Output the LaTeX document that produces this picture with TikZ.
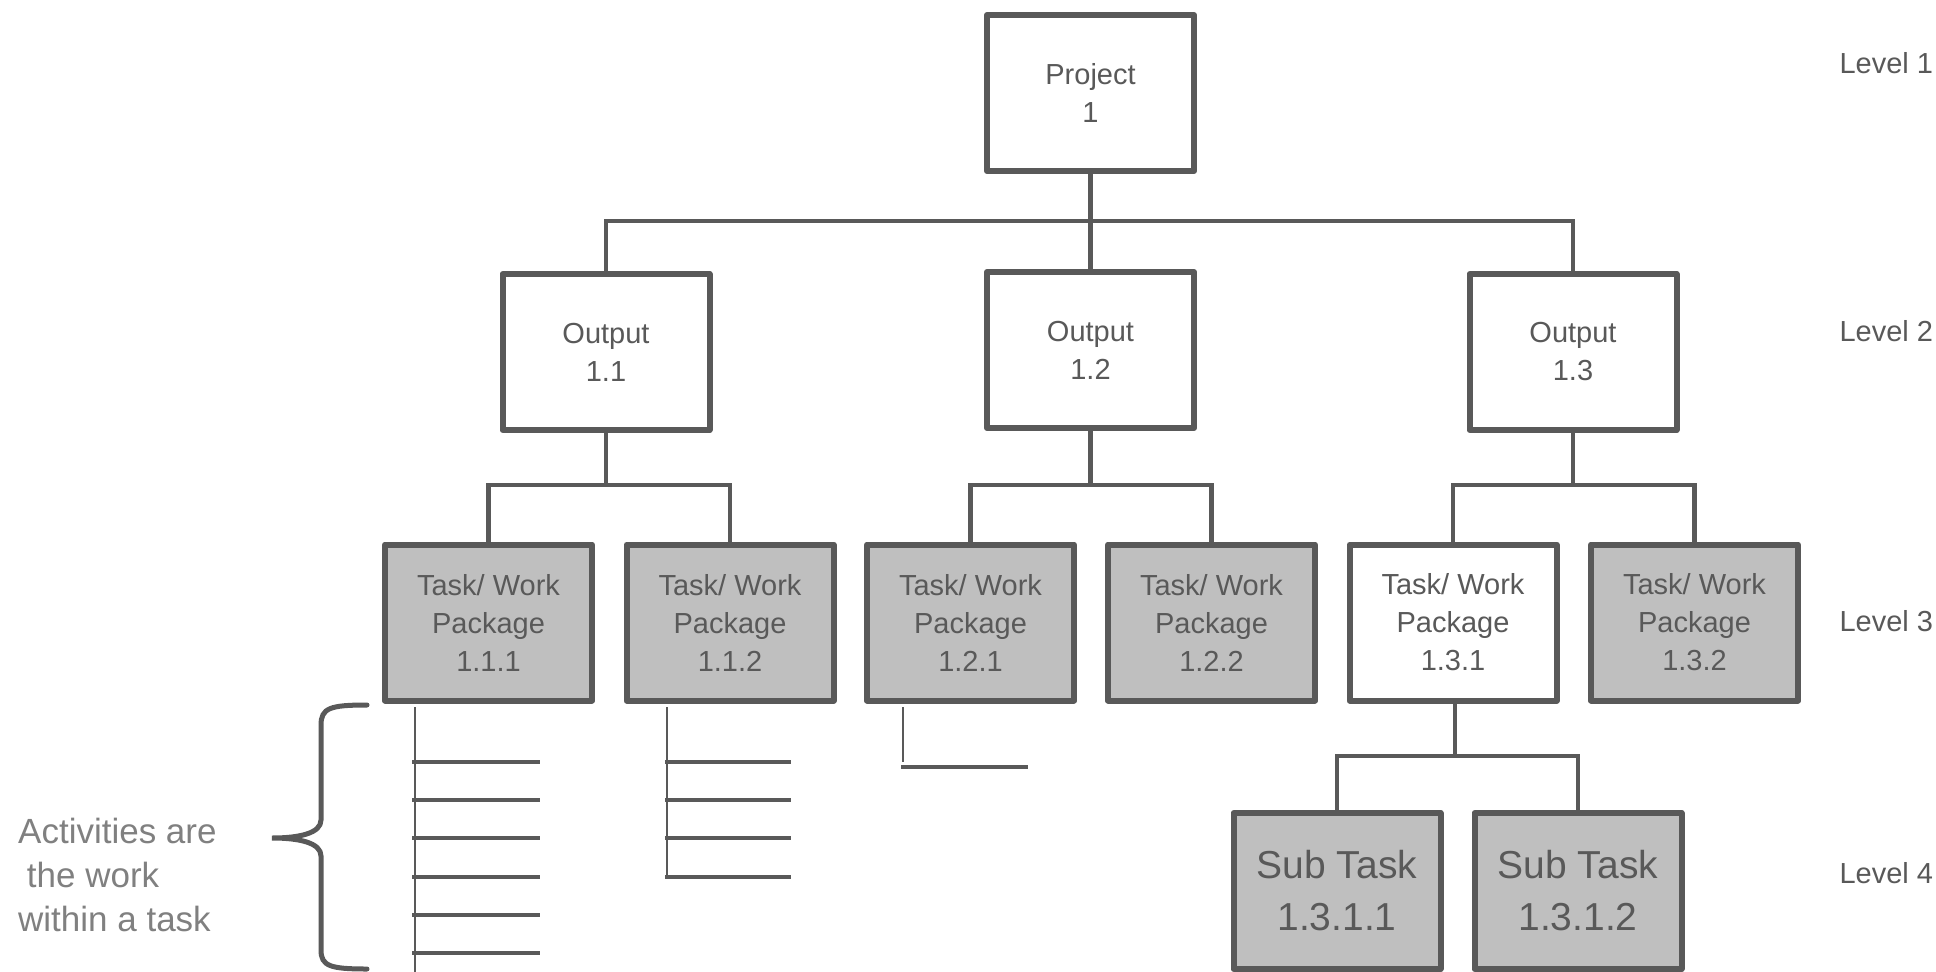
\documentclass[tikz,border=0pt]{standalone}
\usepackage{fontspec}
\setmainfont{Liberation Sans}
\usepackage{tikz}

\definecolor{rahmen}{HTML}{595959}
\definecolor{fuellung}{HTML}{BFBFBF}
\definecolor{hell}{HTML}{808080}

\tikzset{
    kasten/.style={draw=rahmen, line width=6pt, fill=white, minimum width=207pt,
        minimum height=156pt, inner sep=0pt, align=center, text=rahmen,
        line join=round, font=\fontsize{29}{38}\selectfont},
    paket/.style={kasten, fill=fuellung},
    unterpaket/.style={paket, font=\fontsize{39}{52}\selectfont},
    verb/.style={draw=rahmen, line width=4.5pt},
    stiel/.style={draw=rahmen, line width=2pt},
    ebene/.style={anchor=west, text=rahmen, font=\fontsize{29}{36}\selectfont}
}

\begin{document}
\begin{tikzpicture}[x=1pt,y=-1pt]
    \useasboundingbox (0,0) rectangle (1936,972);

    % Ebene 1
    \node[kasten] (proj) at (1090.5,93) {Project\\1};

    % Ebene 2
    \node[kasten] (out11) at (606,352) {Output\\1.1};
    \node[kasten] (out12) at (1090.5,350) {Output\\1.2};
    \node[kasten] (out13) at (1573,352) {Output\\1.3};

    % Ebene 3
    \node[paket] (wp111) at (488.5,622.5) {Task/ Work\\Package\\1.1.1};
    \node[paket] (wp112) at (730,622.5) {Task/ Work\\Package\\1.1.2};
    \node[paket] (wp121) at (970.5,622.5) {Task/ Work\\Package\\1.2.1};
    \node[paket] (wp122) at (1211.5,622.5) {Task/ Work\\Package\\1.2.2};
    \node[kasten] (wp131) at (1453,622.5) {Task/ Work\\Package\\1.3.1};
    \node[paket] (wp132) at (1694.5,622.5) {Task/ Work\\Package\\1.3.2};

    % Ebene 4
    \node[unterpaket] (st1311) at (1337,891) {Sub Task\\1.3.1.1};
    \node[unterpaket] (st1312) at (1578,891) {Sub Task\\1.3.1.2};

    % Verbindungen
    \coordinate (b1) at (1090.5,221);
    \draw[verb] (proj.south) -- (out12.north);
    \draw[verb] (out11.north) |- (b1) -| (out13.north);

    \coordinate (b11) at (606,485);
    \coordinate (b12) at (1090.5,485);
    \coordinate (b13) at (1573,485);
    \draw[verb] (out11.south) -- (b11);
    \draw[verb] (wp111.north) |- (b11) -| (wp112.north);
    \draw[verb] (out12.south) -- (b12);
    \draw[verb] (wp121.north) |- (b12) -| (wp122.north);
    \draw[verb] (out13.south) -- (b13);
    \draw[verb] (wp131.north) |- (b13) -| (wp132.north);

    \coordinate (b131) at (1455,756);
    \draw[verb] (wp131.south) -| (b131);
    \draw[verb] (st1311.north) |- (b131) -| (st1312.north);

    % Aktivitaeten
    \draw[stiel] (415,707) -- (415,972);
    \foreach \y in {762,800,838,877,915,953} {
        \draw[verb] (412,\y) -- (540,\y);
    }
    \draw[stiel] (667,707) -- (667,877);
    \foreach \y in {762,800,838,877} {
        \draw[verb] (665,\y) -- (791,\y);
    }
    \draw[stiel] (903,707) -- (903,762);
    \draw[verb] (901,767) -- (1028,767);

    % Klammer
    \draw[draw=rahmen, line width=5pt, line cap=round]
        (367,705) .. controls (330,705) and (321,708) .. (321,725) -- (321,820)
        .. controls (321,833) and (300,838) .. (272,838)
        .. controls (300,838) and (321,843) .. (321,856) -- (321,950)
        .. controls (321,966) and (330,969) .. (367,969);
    \node[anchor=west, align=left, text=hell, inner sep=0pt,
        font=\fontsize{35}{44}\selectfont] (akt) at (18,875)
        {Activities are\\\hspace*{.25em}the work\\within a task};

    % Beschriftung der Ebenen
    \node[ebene] (lev1) at (1836,63) {Level 1};
    \node[ebene] (lev2) at (1836,331) {Level 2};
    \node[ebene] (lev3) at (1836,621) {Level 3};
    \node[ebene] (lev4) at (1836,873) {Level 4};
\end{tikzpicture}
\end{document}
